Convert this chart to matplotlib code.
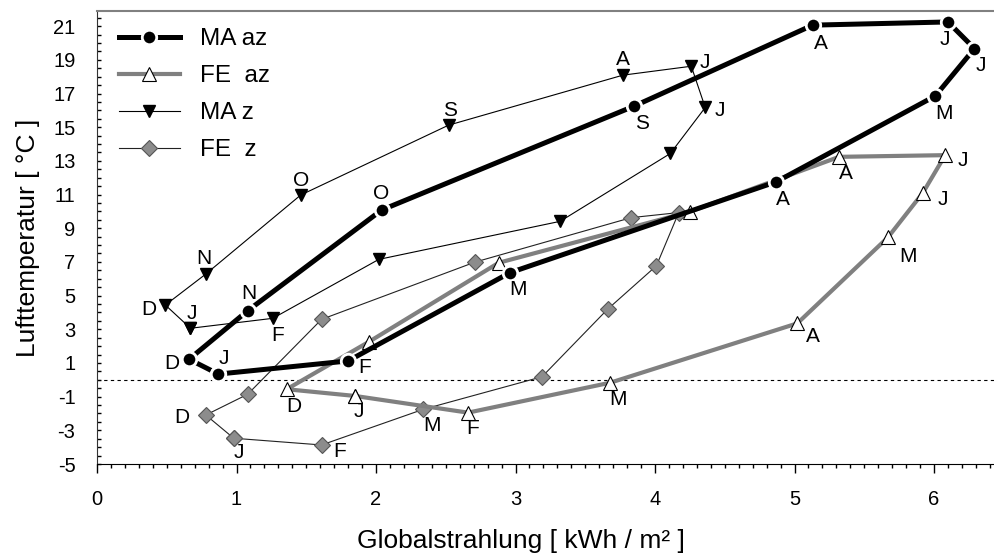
import numpy as np
import matplotlib
matplotlib.use("Agg")
import matplotlib.pyplot as plt
from matplotlib.ticker import FixedLocator, MultipleLocator

plt.rcParams["font.family"] = ["Liberation Sans", "DejaVu Sans"]
plt.rcParams["axes.unicode_minus"] = False

# monthly means, January .. December
months = ["J", "F", "M", "A", "M", "J", "J", "A", "S", "O", "N", "D"]

ma_az_x = [0.87, 1.80, 2.96, 4.87, 6.01, 6.29, 6.10, 5.13, 3.85, 2.04, 1.08, 0.66]
ma_az_y = [0.34, 1.12, 6.36, 11.76, 16.86, 19.67, 21.25, 21.06, 16.25, 10.08, 4.10, 1.22]

fe_az_x = [1.85, 2.66, 3.68, 5.02, 5.67, 5.92, 6.08, 5.32, 4.25, 2.88, 1.95, 1.36]
fe_az_y = [-0.96, -1.95, -0.17, 3.35, 8.46, 11.10, 13.34, 13.24, 9.98, 6.95, 2.26, -0.56]

ma_z_x = [0.67, 1.26, 2.02, 3.32, 4.11, 4.36, 4.26, 3.77, 2.52, 1.46, 0.78, 0.49]
ma_z_y = [3.06, 3.65, 7.15, 9.41, 13.44, 16.17, 18.62, 18.09, 15.12, 10.97, 6.28, 4.44]

fe_z_x = [0.98, 1.61, 2.34, 3.19, 3.66, 4.01, 4.17, 3.83, 2.71, 1.61, 1.08, 0.78]
fe_z_y = [-3.47, -3.87, -1.75, 0.18, 4.19, 6.77, 9.93, 9.63, 6.99, 3.59, -0.86, -2.09]

# month letters placed next to the points: index -> (dx, dy) in pixels
ma_az_lbl = {0: (5, 16), 1: (17, -7), 2: (8, -17), 3: (7, -18), 4: (9, -18),
             5: (6, -17), 6: (-3, -18), 7: (8, -18), 8: (8, -17), 9: (0, 17),
             10: (1, 17), 11: (-17, -4)}
fe_az_lbl = {0: (4, -16), 1: (5, -16), 2: (8, -17), 3: (16, -13), 4: (20, -19),
             5: (20, -7), 6: (18, -5), 7: (7, -17), 11: (7, -17)}
ma_z_lbl = {0: (1, 15), 1: (5, -17), 6: (14, 4), 5: (15, -3), 7: (0, 16),
            8: (2, 15), 9: (0, 15), 10: (-2, 16), 11: (-17, -4)}
fe_z_lbl = {0: (5, -14), 1: (18, -7), 2: (9, -16), 11: (-24, -3)}

GRAY = "#808080"


def closed(v):
    return list(v) + [v[0]]


def label_months(ax, xs, ys, offsets):
    for i, (dx, dy) in offsets.items():
        ax.annotate(months[i], (xs[i], ys[i]), xytext=(dx, dy),
                    textcoords="offset pixels", ha="center", va="center",
                    fontsize=15, color="black", zorder=10)


fig = plt.figure(figsize=(9.94, 5.56), dpi=100)
ax = fig.add_axes([97 / 994, 92 / 556, 897 / 994, 453 / 556])

ax.axhline(0, color="black", lw=0.8, ls=(0, (3, 3)), zorder=1)

ax.plot(closed(fe_z_x), closed(fe_z_y), color="#222222", lw=0.8,
        marker="D", ms=8, mfc="#8c8c8c", mec="#555555", mew=0.8,
        label="FE  z", zorder=3)
ax.plot(closed(ma_z_x), closed(ma_z_y), color="black", lw=0.8,
        marker="v", ms=8.5, mfc="black", mec="black",
        label="MA z", zorder=4)
ax.plot(closed(fe_az_x), closed(fe_az_y), color=GRAY, lw=3.0,
        marker="^", ms=10.5, mfc="white", mec="black", mew=0.8,
        label="FE  az", zorder=5)
ax.plot(closed(ma_az_x), closed(ma_az_y), color="black", lw=3.6,
        marker="o", ms=10.4, mfc="black", mec="white", mew=2,
        label="MA az", zorder=6)

label_months(ax, ma_az_x, ma_az_y, ma_az_lbl)
label_months(ax, fe_az_x, fe_az_y, fe_az_lbl)
label_months(ax, ma_z_x, ma_z_y, ma_z_lbl)
label_months(ax, fe_z_x, fe_z_y, fe_z_lbl)

ax.set_xlim(0, 6.43)
ax.set_ylim(-5, 21.9)

ax.xaxis.set_major_locator(MultipleLocator(1))
ax.xaxis.set_minor_locator(MultipleLocator(0.1))
ax.yaxis.set_major_locator(FixedLocator(np.arange(-5, 22, 2)))
ax.yaxis.set_minor_locator(MultipleLocator(0.5))

ax.tick_params(axis="x", which="major", direction="out", length=6.5, width=1,
               pad=12, labelsize=14.5)
ax.tick_params(axis="x", which="minor", direction="out", length=3, width=1)
ax.tick_params(axis="y", which="both", direction="in", length=3, width=1,
               pad=15.5, labelsize=14.5)

ax.spines["right"].set_visible(False)
ax.spines["top"].set_color(GRAY)
ax.spines["top"].set_linewidth(1.5)
ax.spines["left"].set_color("#333333")
ax.spines["bottom"].set_color("black")

ax.set_xlabel("Globalstrahlung [ kWh / m² ]", fontsize=19)
ax.xaxis.set_label_coords(0.473, -0.143)
ax.set_ylabel("Lufttemperatur [ °C ]", fontsize=19)
ax.yaxis.set_label_coords(-0.064, 0.5)

handles, labels = ax.get_legend_handles_labels()
ax.legend(handles[::-1], labels[::-1], loc="upper left",
          bbox_to_anchor=(0.0245, 0.962), frameon=False, fontsize=17.5,
          borderaxespad=0, borderpad=0, handlelength=2.5,
          handletextpad=0.82, labelspacing=0.62)

fig.savefig("out.png", dpi=100)
